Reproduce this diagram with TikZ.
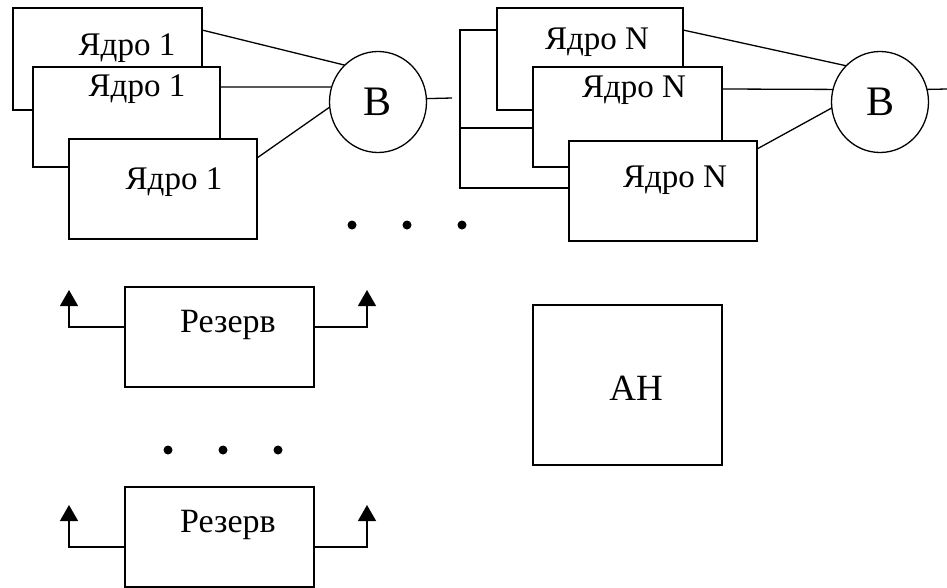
\documentclass[tikz,border=0pt]{standalone}
\usepackage{fontspec}
\setmainfont{Liberation Serif}
\usetikzlibrary{arrows.meta,calc,shapes.geometric}
\tikzset{
  core/.style  = {draw, rectangle, fill=white, anchor=north west,
                  inner sep=0pt, outer sep=0pt},
  voter/.style = {draw, ellipse, fill=white, inner sep=0pt, outer sep=0pt,
                  minimum width=97pt, minimum height=101pt,
                  font=\fontsize{42}{48}\selectfont},
  lbl/.style   = {inner sep=0pt, font=\fontsize{33}{38}\selectfont},
  up/.style    = {-{Triangle[width=18pt,length=16pt]}},
}
\begin{document}
\begin{tikzpicture}[x=1pt, y=-1pt, line width=1.3pt]
\useasboundingbox (0,0) rectangle (947,587);
% ---- first group of cores ----
\node[core, minimum width=189pt, minimum height=102pt] (k11) at (13,8) {};
\node[core, minimum width=187pt, minimum height=100pt] (k12) at (33,67) {};
\node[core, minimum width=188pt, minimum height=100pt] (k13) at (69,139) {};
\node[lbl] (t11) at (127,48) {Ядро 1};
\node[lbl] (t12) at (137,89) {Ядро 1};
\node[lbl] (t13) at (174,182) {Ядро 1};
\node[voter] (b1) at (378,102) {B};
\draw ($(k11.north east)+(0,22)$) -- (b1.132);
\draw ($(k12.north east)+(0,20)$) -- (b1.162);
\draw ($(k13.north east)+(0,19)$) -- (b1.186);
\coordinate (o1) at (452,98);
\draw (b1.4) -- (o1);
% ---- group N ----
\node[core, minimum width=186pt, minimum height=102pt] (kn1) at (497,8) {};
\node[core, minimum width=189pt, minimum height=100pt] (kn2) at (533,67) {};
\node[core, minimum width=188pt, minimum height=100pt] (kn3) at (569,141) {};
\node[lbl] (tn1) at (597,42) {Ядро N};
\node[lbl] (tn2) at (634,90) {Ядро N};
\node[lbl] (tn3) at (675,180) {Ядро N};
\node[voter] (b2) at (880,102) {B};
\draw ($(kn1.north east)+(0,22)$) -- (b2.133);
\draw ($(kn2.north east)+(0,22)$) -- (b2.165);
\draw ($(kn3.north east)+(0,8)$) -- (b2.187);
\coordinate (o2) at (947,89);
\draw (b2.15) -- (o2);
% common input bus
\coordinate (bt) at (460,30);
\coordinate (bm) at (460,128);
\coordinate (bb) at (460,188);
\draw ($(kn1.north west)+(0,22)$) -- (bt) -- (bb) -- (bb -| kn3.west);
\draw (bm) -- (bm -| kn2.west);
% ---- dots ----
\foreach \x in {352,407,462} \fill (\x,225) circle (4.5pt);
\foreach \x in {168,223,278} \fill (\x,450) circle (4.5pt);
% ---- spare units ----
\node[core, minimum width=189pt, minimum height=100pt] (r1) at (125,287) {};
\node[core, minimum width=189pt, minimum height=100pt] (r2) at (125,487) {};
\node[lbl, font=\fontsize{34}{40}\selectfont] (tr1) at (228,325) {Резерв};
\node[lbl, font=\fontsize{34}{40}\selectfont] (tr2) at (228,525) {Резерв};
\coordinate (ra1) at (69,290);
\coordinate (rb1) at (367,290);
\coordinate (ra2) at (69,505);
\coordinate (rb2) at (367,505);
\draw[up] ($(r1.north west)+(0,40)$) -| (ra1);
\draw[up] ($(r1.north east)+(0,40)$) -| (rb1);
\draw[up] ($(r2.north west)+(0,60)$) -| (ra2);
\draw[up] ($(r2.north east)+(0,60)$) -| (rb2);
% ---- analyser ----
\node[core, minimum width=189pt, minimum height=160pt] (an) at (533,305) {};
\node[lbl, font=\fontsize{37}{42}\selectfont] (tan) at (636,388) {АН};
\end{tikzpicture}
\end{document}
